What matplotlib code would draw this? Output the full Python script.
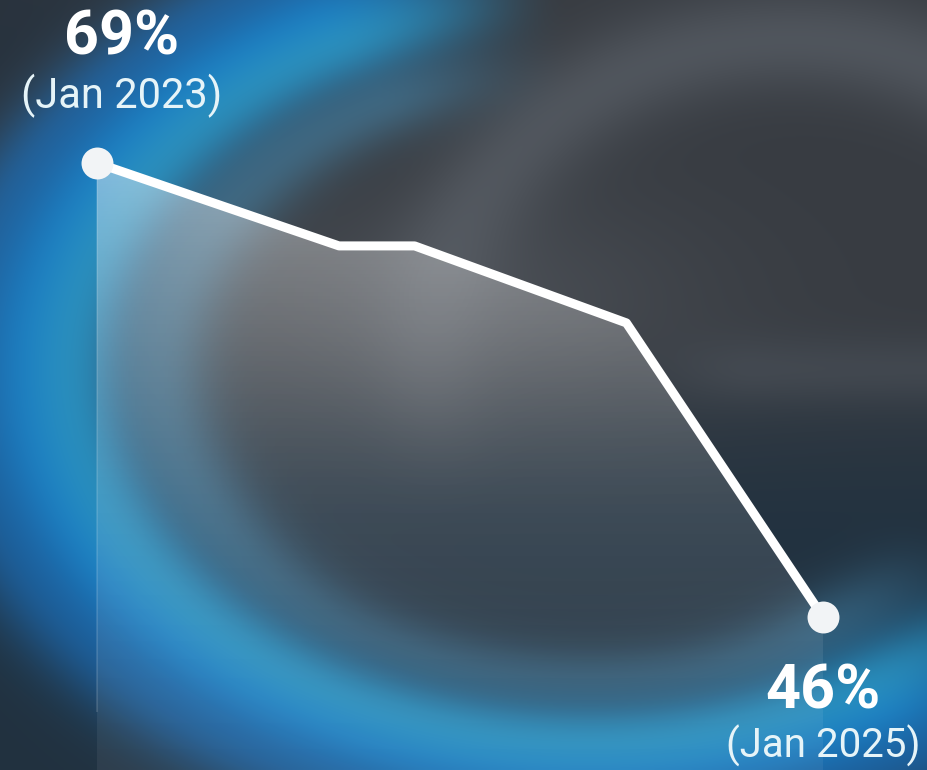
import numpy as np
import matplotlib
matplotlib.use("Agg")
import matplotlib.pyplot as plt

# ---- data ----
month_offsets = [0, 8, 10.5, 17.5, 24]          # months since Jan 2023
share_values = [69, 64.8, 64.8, 60.9, 46]       # %
start_value_label = "69%"
start_date_label = "(Jan 2023)"
end_value_label = "46%"
end_date_label = "(Jan 2025)"

W, H = 927, 770
fig = plt.figure(figsize=(W / 100, H / 100), dpi=100)
ax = fig.add_axes([0, 0, 1, 1])

# axis limits chosen so the frame fills the canvas
px_per_month = 30.25
px_per_pct = 19.74
x0_px, y0_px = 97, 163
xlim = (-x0_px / px_per_month, (W - x0_px) / px_per_month)
ylim = (69 - (H - y0_px) / px_per_pct, 69 + y0_px / px_per_pct)

# ---- background (blurred blue swirl on charcoal) ----
yy, xx = np.mgrid[0:H, 0:W].astype(float)


def smooth(e0, e1, v):
    t = np.clip((v - e0) / (e1 - e0), 0, 1)
    return t * t * (3 - 2 * t)


def blend(img, color, w):
    w = np.clip(w, 0, 1)[..., None]
    return img * (1 - w) + np.array(color, float)[None, None, :] * w


top_col = np.array([56, 60, 66], float)
bot_col = np.array([34, 50, 64], float)
t = smooth(300, 560, yy)[..., None]
img = top_col * (1 - t) + bot_col * t

# lighter gray arc in upper right
cx2, cy2, a2, b2 = 790, 360, 360, 320
r2 = np.sqrt(((xx - cx2) / a2) ** 2 + ((yy - cy2) / b2) ** 2)
th2 = np.degrees(np.arctan2((yy - cy2) / b2, (xx - cx2) / a2)) % 360
w2 = np.exp(-(((r2 - 1) * 340) / 55) ** 2) * smooth(150, 200, th2) * (1 - smooth(300, 340, th2))
img = blend(img, (90, 96, 104), 0.7 * w2)
# soft horizontal band on right
wb = np.exp(-((yy - 370) / 35) ** 2) * smooth(620, 760, xx)
img = blend(img, (74, 80, 88), 0.6 * wb)
# center gray glow
wc = np.exp(-(((xx - 470) / 230) ** 2 + ((yy - 300) / 110) ** 2))
img = blend(img, (92, 97, 104), 0.45 * wc)

# main blue ring
cx, cy, a, b = 590, 370, 560, 400
rn = np.sqrt(((xx - cx) / a) ** 2 + ((yy - cy) / b) ** 2)
th = np.degrees(np.arctan2((yy - cy) / b, (xx - cx) / a)) % 360
ang = smooth(30, 60, th) * (1 - smooth(240, 268, th))
d = (rn - 1) * 470
w_ring = np.exp(-(d / 80) ** 2) * ang
img = blend(img, (26, 126, 196), 0.97 * w_ring)
# teal highlight in ring
w_teal = np.exp(-((d + 35) / 38) ** 2) * ang
img = blend(img, (50, 162, 200), 0.55 * w_teal)
# inner pale band
w_in = np.exp(-((d + 115) / 40) ** 2) * ang
img = blend(img, (78, 150, 190), 0.4 * w_in)
# deeper blue outer edge
w_out = np.exp(-((d - 60) / 45) ** 2) * ang
img = blend(img, (28, 98, 172), 0.45 * w_out)
# dark gap inside ring near the bottom
w_gap = np.exp(-((d + 170) / 60) ** 2) * smooth(40, 80, th) * (1 - smooth(120, 160, th))
img = blend(img, (38, 52, 66), 0.55 * w_gap)
# dark corner bottom-left
wdc = smooth(60, 160, d) * smooth(100, 260, th) * (1 - smooth(200, 260, th))
img = blend(img, (30, 44, 58), 0.9 * wdc)

img = np.clip(img, 0, 255).astype(np.uint8)
ax.imshow(img, extent=(xlim[0], xlim[1], ylim[0], ylim[1]), aspect="auto", zorder=0,
          interpolation="bilinear")

# ---- gradient fill under the line ----
x = np.array(month_offsets, float)
y = np.array(share_values, float)
poly = ax.fill_between(x, y, ylim[0], facecolor="none", edgecolor="none", zorder=1)
ny = 256
px_rows = np.linspace(y0_px, H, ny)
grad = np.ones((ny, 2, 4))
grad[..., 3] = (0.42 * np.exp(-(px_rows - y0_px) / 230) + 0.03)[:, None]
im = ax.imshow(grad, extent=(x[0], x[-1], ylim[0], y.max()), aspect="auto", zorder=2,
               interpolation="bilinear")
im.set_clip_path(poly.get_paths()[0], transform=ax.transData)
# faint left edge of the fill
ax.plot([x[0], x[0]], [ylim[0] + 3, y[0]], color="white", alpha=0.12, lw=1.5, zorder=2)

# ---- line and end markers ----
ax.plot(x, y, color="white", lw=6.5, solid_joinstyle="round", solid_capstyle="round", zorder=3)
ax.plot([x[0], x[-1]], [y[0], y[-1]], linestyle="none", marker="o", markersize=23,
        markerfacecolor="#f2f4f6", markeredgecolor="none", zorder=4)

# ---- labels ----
font = "Roboto"
ax.text(x[0] + 0.82, y[0] + 6.35, start_value_label, ha="center", va="center",
        fontsize=44, fontweight="bold", color="white", family=font, zorder=5)
ax.text(x[0] + 0.82, y[0] + 3.4, start_date_label, ha="center", va="center",
        fontsize=30, color="#e6f4f8", family=font, zorder=5)
ax.text(x[-1], y[-1] - 3.75, end_value_label, ha="center", va="center",
        fontsize=44, fontweight="bold", color="white", family=font, zorder=5)
ax.text(x[-1], y[-1] - 6.55, end_date_label, ha="center", va="center",
        fontsize=29, color="#e6f4f8", family=font, zorder=5)

ax.set_xlim(*xlim)
ax.set_ylim(*ylim)
ax.axis("off")
fig.savefig("out.png", dpi=100)
